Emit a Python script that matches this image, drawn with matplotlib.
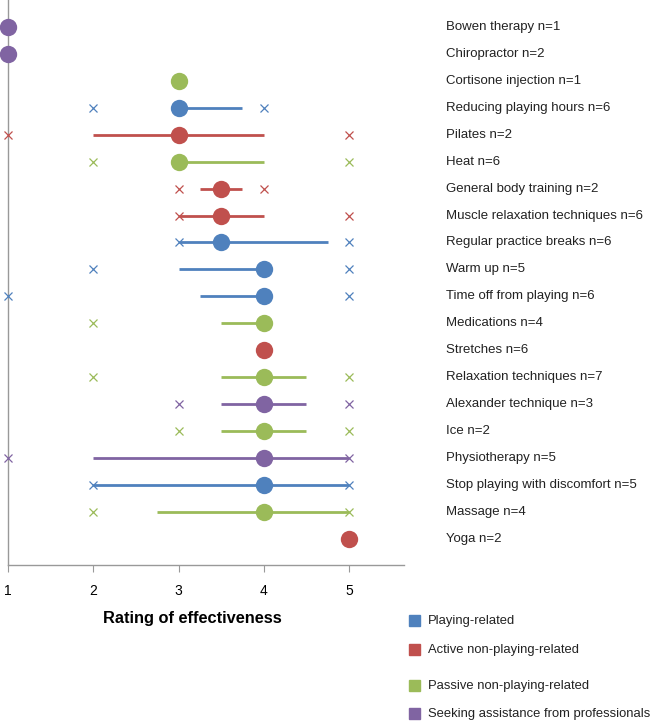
import numpy as np
import matplotlib
matplotlib.use('Agg')
import matplotlib.pyplot as plt

plt.rcParams['font.family'] = ['Liberation Sans', 'DejaVu Sans']

# category colours (Excel-like)
colors = {'play': '#4f81bd', 'active': '#c0504d', 'passive': '#9bbb59', 'prof': '#8064a2'}
legend_labels = {'play': 'Playing-related',
                 'active': 'Active non-playing-related',
                 'passive': 'Passive non-playing-related',
                 'prof': 'Seeking assistance from professionals'}

labels = ['Bowen therapy n=1', 'Chiropractor n=2', 'Cortisone injection n=1',
          'Reducing playing hours n=6', 'Pilates n=2', 'Heat n=6',
          'General body training n=2', 'Muscle relaxation techniques n=6',
          'Regular practice breaks n=6', 'Warm up n=5', 'Time off from playing n=6',
          'Medications n=4', 'Stretches n=6', 'Relaxation techniques n=7',
          'Alexander technique n=3', 'Ice n=2', 'Physiotherapy n=5',
          'Stop playing with discomfort n=5', 'Massage n=4', 'Yoga n=2']
group = ['prof', 'prof', 'passive', 'play', 'active', 'passive', 'active', 'active',
         'play', 'play', 'play', 'passive', 'active', 'passive', 'prof', 'passive',
         'prof', 'play', 'passive', 'active']
median = [1, 1, 3, 3, 3, 3, 3.5, 3.5, 3.5, 4, 4, 4, 4, 4, 4, 4, 4, 4, 4, 5]
q1 = [None, None, None, 3, 2, 3, 3.25, 3, 3, 3, 3.25, 3.5, None, 3.5, 3.5, 3.5, 2, 2, 2.75, None]
q3 = [None, None, None, 3.75, 4, 4, 3.75, 4, 4.75, 4, 4, 4, None, 4.5, 4.5, 4.5, 5, 5, 5, None]
vmin = [None, None, None, 2, 1, 2, 3, 3, 3, 2, 1, 2, None, 2, 3, 3, 1, 2, 2, None]
vmax = [None, None, None, 4, 5, 5, 4, 5, 5, 5, 5, None, None, 5, 5, 5, 5, 5, 5, None]

fig = plt.figure(figsize=(6.55, 7.22), dpi=100)
ax = fig.add_axes([8/655, 157/722, 396/655, 565/722])

for i in range(len(labels)):
    c = colors[group[i]]
    if q1[i] is not None:
        ax.plot([q1[i], q3[i]], [i, i], color=c, lw=2, solid_capstyle='butt', zorder=2)
    for v in (vmin[i], vmax[i]):
        if v is not None:
            ax.plot(v, i, 'x', color=c, ms=6, mew=0.9, zorder=3, clip_on=False)
    ax.plot(median[i], i, 'o', color=c, ms=12.5, mec='none', zorder=4, clip_on=False)
    ax.text(1.0 + (446 - 8) / 85.25, i, labels[i], fontsize=9.5, va='center', ha='left',
            color='#222222', clip_on=False)

ax.set_xlim(1, 5.645)
ax.set_ylim(19.97, -1.0)
ax.set_xticks([1, 2, 3, 4, 5])
ax.set_yticks([])
ax.tick_params(axis='x', length=5, width=0.8, color='#999999', labelsize=10, pad=9)
for s in ['top', 'right']:
    ax.spines[s].set_visible(False)
for s in ['left', 'bottom']:
    ax.spines[s].set_color('#999999')
    ax.spines[s].set_linewidth(1.0)

fig.text(192/655, 1 - 618/722, 'Rating of effectiveness', fontsize=11.8, fontweight='bold',
         ha='center', va='center')

ys = [621, 650, 686, 714]
for key, y in zip(['play', 'active', 'passive', 'prof'], ys):
    fig.patches.append(plt.Rectangle((409/655, 1 - (y + 5)/722), 11/655, 11/722,
                                     transform=fig.transFigure, color=colors[key]))
    fig.text(428/655, 1 - y/722, legend_labels[key], fontsize=9.4, va='center', ha='left',
             color='#222222')

plt.savefig('out.png', dpi=100)
